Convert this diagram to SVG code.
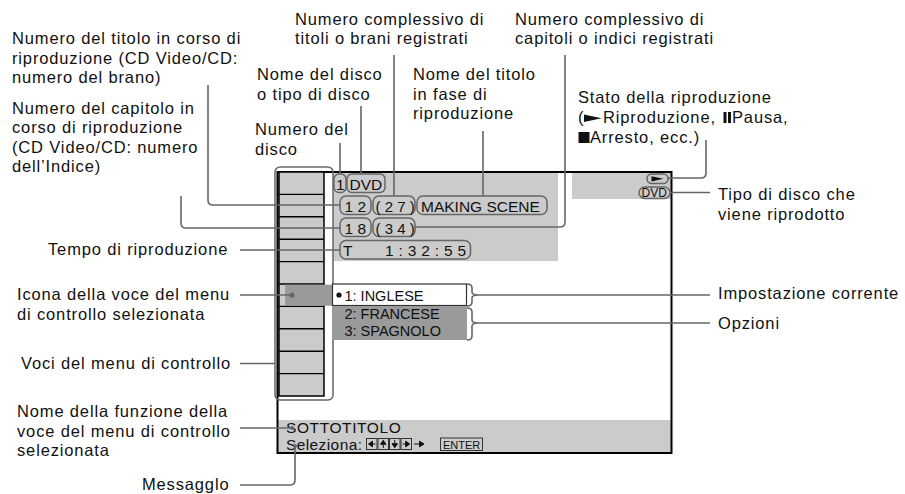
<svg xmlns="http://www.w3.org/2000/svg" width="905" height="494" viewBox="0 0 905 494">
  <style>
    .lbl { font-family: "Liberation Sans", Arial, sans-serif; font-size: 16.5px; letter-spacing: 0.85px; fill: #111; }
    .scr { font-family: "Liberation Sans", Arial, sans-serif; font-size: 15.5px; fill: #111; }
    .menu { font-family: "Liberation Sans", Arial, sans-serif; font-size: 14.5px; fill: #111; }
    .small { font-family: "Liberation Sans", Arial, sans-serif; font-size: 11.5px; fill: #111; }
    .pill { fill: none; stroke: #666; stroke-width: 1.5; }
    .lead { fill: none; stroke: #666; stroke-width: 1.6; }
    .cell { fill: none; stroke: #000; stroke-width: 1.4; }
    .key { fill: #ccc; stroke: #333; stroke-width: 1; }
    .glyph { fill: #111; stroke: #111; stroke-width: 1; }
  </style>
  <rect width="905" height="494" fill="#fff"/>

  <!-- on-screen display -->
  <g id="screen">
    <rect x="333" y="173" width="225" height="88" fill="#cbcbcb"/>
    <rect x="572" y="173" width="99" height="26" fill="#cbcbcb"/>
    <rect x="278" y="420" width="393" height="32" fill="#cbcbcb"/>
    <rect x="277.5" y="172" width="394" height="281" fill="none" stroke="#000" stroke-width="2"/>
  </g>

  <!-- control menu column -->
  <g id="menu-column">
    <rect x="279" y="172" width="45" height="224" fill="#cbcbcb" stroke="#000" stroke-width="1.5"/>
    <path class="cell" d="M279 194.4H324M279 216.8H324M279 239.2H324M279 261.6H324M279 284H324M279 306.4H324M279 328.8H324M279 351.2H324M279 373.6H324"/>
    <rect x="285" y="284.7" width="48" height="21" fill="#9a9a9a"/>
    <rect x="275" y="167" width="58" height="233" rx="5" class="pill"/>
  </g>

  <!-- info rows -->
  <g id="disc-number">
    <rect x="334" y="174" width="12" height="18.5" rx="5" class="pill"/>
    <text x="336" y="190" class="scr">1</text>
  </g>
  <g id="disc-type">
    <rect x="347" y="174" width="38" height="18.5" rx="5" class="pill"/>
    <text x="349.5" y="190" class="scr">DVD</text>
  </g>
  <g id="title-number">
    <rect x="340" y="196" width="31" height="18.5" rx="6" class="pill"/>
    <text x="344.5" y="211.5" class="scr">1 2</text>
  </g>
  <g id="title-total">
    <rect x="373" y="196" width="42" height="18.5" rx="6" class="pill"/>
    <text x="375.5" y="211.5" class="scr" style="font-size:15px">( 2 7 )</text>
  </g>
  <g id="title-name">
    <rect x="417" y="196" width="130" height="18.5" rx="6" class="pill"/>
    <text x="421" y="211.5" class="scr">MAKING SCENE</text>
  </g>
  <g id="chapter-number">
    <rect x="340" y="218" width="31" height="18.5" rx="6" class="pill"/>
    <text x="344.5" y="234" class="scr">1 8</text>
  </g>
  <g id="chapter-total">
    <rect x="373" y="218" width="42" height="18.5" rx="6" class="pill"/>
    <text x="375.5" y="234" class="scr" style="font-size:15px">( 3 4 )</text>
  </g>
  <g id="play-time">
    <rect x="340" y="240.5" width="130.5" height="18.5" rx="6" class="pill"/>
    <text x="343" y="256" class="scr">T</text>
    <text x="385" y="256" class="scr" style="letter-spacing:0.3px">1 : 3 2 : 5 5</text>
  </g>

  <!-- play status and disc type, top right -->
  <g id="play-status">
    <rect x="647" y="174" width="21" height="9.5" rx="4.7" class="pill"/>
    <path d="M651.5 176.2L663.5 178.8L651.5 181.4Z" fill="#111"/>
  </g>
  <g id="disc-kind">
    <rect x="639" y="187" width="31" height="11.5" rx="5.7" class="pill"/>
    <text x="641.5" y="196.8" class="small" style="font-size:12px">DVD</text>
  </g>

  <!-- settings list -->
  <g id="current-setting">
    <rect x="332.5" y="284" width="134" height="21.5" fill="#fff" stroke="#333" stroke-width="1.2"/>
    <circle cx="339" cy="295" r="2.6" fill="#111"/>
    <text x="344.5" y="300.5" class="menu">1: INGLESE</text>
  </g>
  <g id="options">
    <rect x="332" y="306" width="135" height="34" fill="#9a9a9a"/>
    <text x="344.5" y="318.5" class="menu">2: FRANCESE</text>
    <text x="344.5" y="336" class="menu">3: SPAGNOLO</text>
  </g>

  <!-- function name and message bar -->
  <g id="function-name">
    <text x="286" y="433" class="scr" style="letter-spacing:0.6px">SOTTOTITOLO</text>
  </g>
  <g id="message">
    <text x="286" y="450" class="scr" style="letter-spacing:0.4px">Seleziona:</text>
    <rect x="366.5" y="438.5" width="10.5" height="11" class="key"/>
    <path class="glyph" d="M368.5 444L372.5 441.2V446.8Z M372.5 444H375.5"/>
    <rect x="378" y="438.5" width="10.5" height="11" class="key"/>
    <path class="glyph" d="M383.25 440.3L380.5 444.3H386Z M383.25 444.3V448"/>
    <rect x="389.5" y="438.5" width="10.5" height="11" class="key"/>
    <path class="glyph" d="M394.75 447.7L392 443.7H397.5Z M394.75 443.7V440"/>
    <rect x="401" y="438.5" width="10.5" height="11" class="key"/>
    <path class="glyph" d="M409.7 444L405.7 441.2V446.8Z M405.7 444H402.7"/>
    <path class="glyph" d="M414 444H419.5 M424 444L419.5 441.2V446.8Z"/>
    <rect x="440.5" y="438" width="42" height="12.5" class="key"/>
    <text x="443" y="448.5" class="small" style="font-size:11px">ENTER</text>
  </g>

  <!-- labels -->
  <g id="label-title-number">
    <text class="lbl" x="12" y="44">Numero del titolo in corso di</text>
    <text class="lbl" x="12" y="63.5">riproduzione (CD Video/CD:</text>
    <text class="lbl" x="12" y="83">numero del brano)</text>
  </g>
  <g id="label-chapter-number">
    <text class="lbl" x="12" y="113.5">Numero del capitolo in</text>
    <text class="lbl" x="12" y="133">corso di riproduzione</text>
    <text class="lbl" x="12" y="152.5">(CD Video/CD: numero</text>
    <text class="lbl" x="12" y="172">dell’Indice)</text>
  </g>
  <g id="label-play-time">
    <text class="lbl" x="48" y="255">Tempo di riproduzione</text>
  </g>
  <g id="label-selected-icon">
    <text class="lbl" x="17" y="300">Icona della voce del menu</text>
    <text class="lbl" x="17" y="320">di controllo selezionata</text>
  </g>
  <g id="label-menu-items">
    <text class="lbl" x="21" y="368.5">Voci del menu di controllo</text>
  </g>
  <g id="label-function-name">
    <text class="lbl" x="17" y="417">Nome della funzione della</text>
    <text class="lbl" x="17" y="436.5">voce del menu di controllo</text>
    <text class="lbl" x="17" y="456">selezionata</text>
  </g>
  <g id="label-message">
    <text class="lbl" x="142" y="490">Messagglo</text>
  </g>
  <g id="label-title-total">
    <text class="lbl" x="295" y="25">Numero complessivo di</text>
    <text class="lbl" x="295" y="43.5">titoli o brani registrati</text>
  </g>
  <g id="label-chapter-total">
    <text class="lbl" x="515" y="25">Numero complessivo di</text>
    <text class="lbl" x="515" y="43.5">capitoli o indici registrati</text>
  </g>
  <g id="label-disc-name">
    <text class="lbl" x="257" y="80">Nome del disco</text>
    <text class="lbl" x="257" y="99.5">o tipo di disco</text>
  </g>
  <g id="label-title-name">
    <text class="lbl" x="413" y="80">Nome del titolo</text>
    <text class="lbl" x="413" y="99.5">in fase di</text>
    <text class="lbl" x="413" y="119">riproduzione</text>
  </g>
  <g id="label-disc-number">
    <text class="lbl" x="255" y="135">Numero del</text>
    <text class="lbl" x="255" y="155">disco</text>
  </g>
  <g id="label-play-status">
    <text class="lbl" x="578" y="103">Stato della riproduzione</text>
    <text class="lbl" x="578" y="123">(</text>
    <path d="M584 114.5L601.5 118.2L584 122Z" fill="#111"/>
    <text class="lbl" x="603" y="123">Riproduzione,</text>
    <rect x="723.5" y="112" width="3" height="11" fill="#111"/>
    <rect x="728" y="112" width="3" height="11" fill="#111"/>
    <text class="lbl" x="732" y="123">Pausa,</text>
    <rect x="578.5" y="132" width="11" height="11" fill="#111"/>
    <text class="lbl" x="590" y="143">Arresto, ecc.)</text>
  </g>
  <g id="label-disc-kind">
    <text class="lbl" x="718" y="200">Tipo di disco che</text>
    <text class="lbl" x="718" y="220">viene riprodotto</text>
  </g>
  <g id="label-current-setting">
    <text class="lbl" x="718" y="299">Impostazione corrente</text>
  </g>
  <g id="label-options">
    <text class="lbl" x="718" y="328.5">Opzioni</text>
  </g>

  <!-- connectors -->
  <g id="connectors">
    <path class="lead" d="M340 143V174"/>
    <path class="lead" d="M361 106V174"/>
    <path class="lead" d="M394 55V196"/>
    <path class="lead" d="M483 131V196"/>
    <path class="lead" d="M415 227H560Q565 227 565 222V55"/>
    <path class="lead" d="M668 178H701Q706 178 706 173V140"/>
    <path class="lead" d="M670 192.5H710"/>
    <path class="lead" d="M208 85V200Q208 205 213 205H340"/>
    <path class="lead" d="M181 196V223Q181 228 186 228H340"/>
    <path class="lead" d="M240 250H340"/>
    <path class="lead" d="M240 295H292"/>
    <circle cx="292" cy="295" r="2.6" fill="#666"/>
    <path class="lead" d="M240 363.5H275"/>
    <path class="lead" d="M240 428H292"/>
    <circle cx="292" cy="428" r="2" fill="#666"/>
    <path class="lead" d="M240 485H290Q295 485 295 480V446"/>
    <circle cx="295" cy="446" r="2" fill="#666"/>
    <path class="lead" d="M467 284Q472 284 472 288V292Q472 295 478 295Q472 295 472 298V302Q472 306 467 306"/>
    <path class="lead" d="M467 308Q472 308 472 312V320Q472 323 478 323Q472 323 472 326V336Q472 340 467 340"/>
    <path class="lead" d="M478 295H710"/>
    <path class="lead" d="M478 323H710"/>
  </g>
</svg>
